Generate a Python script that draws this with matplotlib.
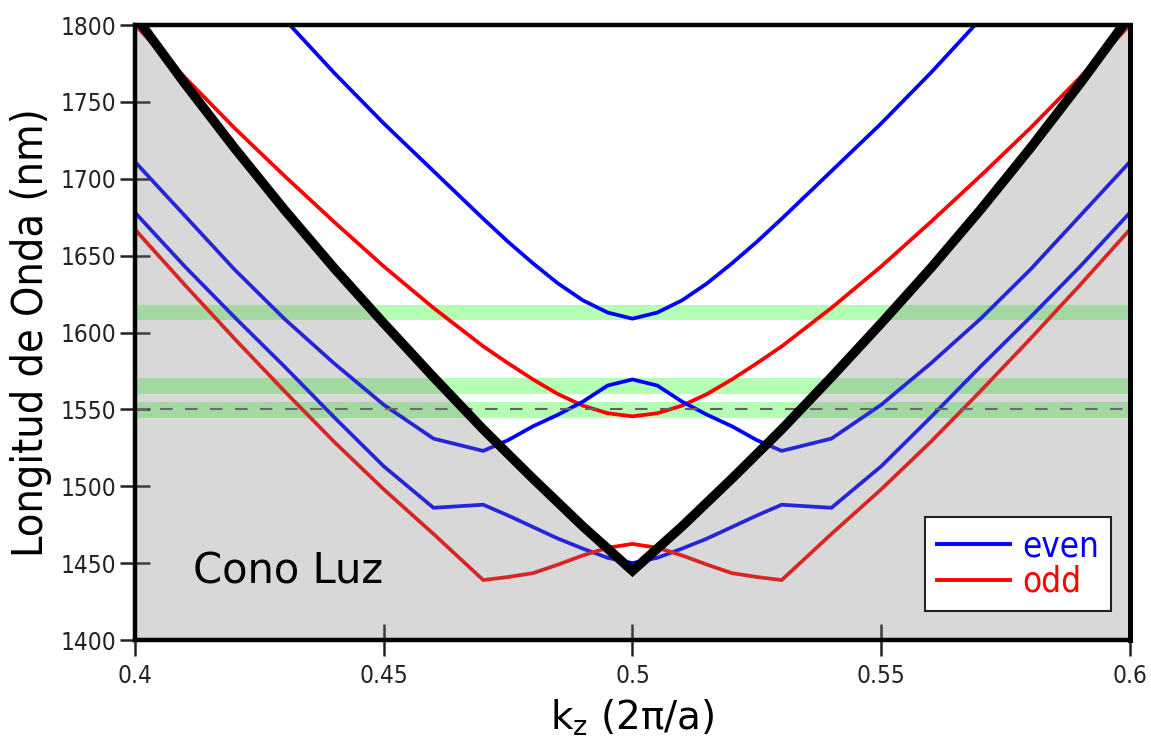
import os
import numpy as np
import matplotlib
matplotlib.use("Agg")
import matplotlib.pyplot as plt
from matplotlib import font_manager as fm
from matplotlib.lines import Line2D

nan = np.nan
# ---------------- data ----------------
k = [0.40, 0.41, 0.42, 0.43, 0.44, 0.45, 0.46, 0.47, 0.475, 0.48, 0.485, 0.49, 0.495,
     0.50, 0.505, 0.51, 0.515, 0.52, 0.525, 0.53, 0.54, 0.55, 0.56, 0.57, 0.58, 0.59, 0.60]

even_band3 = [nan, nan, nan, 1804, 1769, 1736, 1705, 1674, 1659, 1645, 1632, 1621, 1613,
              1609, 1613, 1621, 1632, 1645, 1659, 1674, 1705, 1736, 1769, 1804, nan, nan, nan]
odd_band2 = [1800, 1766, 1733, 1702, 1672, 1643, 1616, 1591, 1580, 1569.5, 1560, 1552.5, 1547.5,
             1545.5, 1547.5, 1552.5, 1560, 1569.5, 1580, 1591, 1616, 1643, 1672, 1702, 1733, 1766, 1800]
even_band1 = [1711, 1676, 1641, 1609, 1580, 1553, 1531, 1523, 1530, 1539, 1546.5, 1555, 1565.5,
              1569.5, 1565.5, 1555, 1546.5, 1539, 1530, 1523, 1531, 1553, 1580, 1609, 1641, 1676, 1711]
even_band0 = [1678, 1643, 1610, 1578, 1545, 1513, 1486, 1488, 1481, 1473.5, 1466, 1459.5, 1453.5,
              1450, 1453.5, 1459.5, 1466, 1473.5, 1481, 1488, 1486, 1513, 1545, 1578, 1610, 1643, 1678]
odd_band0 = [1667, 1631, 1596, 1562, 1529, 1498, 1469, 1439, 1441, 1443.5, 1449, 1455, 1460,
             1462.5, 1460, 1455, 1449, 1443.5, 1441, 1439, 1469, 1498, 1529, 1562, 1596, 1631, 1667]

k_light = [0.40, 0.41, 0.42, 0.43, 0.44, 0.45, 0.46, 0.47, 0.48, 0.49, 0.50,
           0.51, 0.52, 0.53, 0.54, 0.55, 0.56, 0.57, 0.58, 0.59, 0.60]
light_line = [1806, 1762, 1720, 1680, 1642, 1606, 1571, 1537, 1505, 1474, 1445,
              1474, 1505, 1537, 1571, 1606, 1642, 1680, 1720, 1762, 1806]

green_bands = [(1608, 1618), (1560, 1570.5), (1544.5, 1554.5)]
ref_wavelength = 1550

x_ticks = [0.4, 0.45, 0.5, 0.55, 0.6]
x_ticklabels = ["0.4", "0.45", "0.5", "0.55", "0.6"]
y_ticks = [1400, 1450, 1500, 1550, 1600, 1650, 1700, 1750, 1800]
legend_labels = ["even", "odd"]
cone_label = "Cono Luz"
x_label = "k$_\\mathregular{z}$ (2π/a)"
y_label = "Longitud de Onda (nm)"

# ---------------- fonts ----------------
cond = [f.fname for f in fm.fontManager.ttflist
        if os.path.basename(f.fname) == "DejaVuSansCondensed.ttf"]
if cond:
    fp_cond = lambda s: fm.FontProperties(fname=cond[0], size=s)
    ylab_size, leg_size, tick_size = 31, 25, 17.5
else:
    fp_cond = lambda s: fm.FontProperties(family="DejaVu Sans", size=s)
    ylab_size, leg_size, tick_size = 28, 23, 16

BLUE = "#0000ff"
RED = "#ff0000"

fig = plt.figure(figsize=(11.51, 7.40), dpi=100)
ax = fig.add_axes([0.1173, 0.1351, 0.9817 - 0.1173, 0.9662 - 0.1351])

for lo, hi in green_bands:
    ax.axhspan(lo, hi, color="#b3ffb3", lw=0, zorder=1)

lw = 2.7
for vals, col in [(even_band3, BLUE), (odd_band2, RED), (even_band1, BLUE),
                  (even_band0, BLUE), (odd_band0, RED)]:
    ax.plot(k, vals, color=col, lw=lw, zorder=2, solid_joinstyle="round")

ax.axhline(ref_wavelength, color="#606060", lw=1.5, dashes=(6, 6), zorder=2.5)

ax.fill_between(k_light, 1400, light_line, facecolor="#808080", alpha=0.3, lw=0, zorder=3)
ax.plot(k_light, light_line, color="black", lw=6.8, zorder=4, solid_joinstyle="miter")

ax.text(0.4117, 1437, cone_label, fontsize=30, color="black", zorder=6)

ax.set_xlim(0.4, 0.6)
ax.set_ylim(1400, 1800)
ax.set_xticks(x_ticks)
ax.set_xticklabels(x_ticklabels)
ax.set_yticks(y_ticks)
for lab in ax.get_xticklabels() + ax.get_yticklabels():
    lab.set_fontproperties(fp_cond(tick_size))
    lab.set_color("#222222")
ax.tick_params(axis="y", direction="inout", length=21, width=1.8, pad=3.0, color="#222222")
ax.tick_params(axis="x", direction="inout", length=23, width=1.8, pad=6, color="#222222")

for name, s in ax.spines.items():
    s.set_linewidth(3.6 if name == "right" else 3.2)
    s.set_zorder(7)

ax.set_ylabel(y_label, fontproperties=fp_cond(ylab_size), labelpad=6)
ax.set_xlabel(x_label, fontsize=28, labelpad=7)

handles = [Line2D([], [], color=BLUE, lw=2.8), Line2D([], [], color=RED, lw=2.8)]
leg = ax.legend(handles, legend_labels, loc="lower right", bbox_to_anchor=(0.981, 0.047),
                borderaxespad=0, prop=fp_cond(leg_size), frameon=True, fancybox=False,
                framealpha=1, edgecolor="#222222", handlelength=2.1, handletextpad=0.35,
                labelspacing=0.05, borderpad=0.35)
leg.get_frame().set_linewidth(1.5)
leg.set_zorder(8)
for t, c in zip(leg.get_texts(), [BLUE, RED]):
    t.set_color(c)

fig.savefig("out.png", dpi=100)
